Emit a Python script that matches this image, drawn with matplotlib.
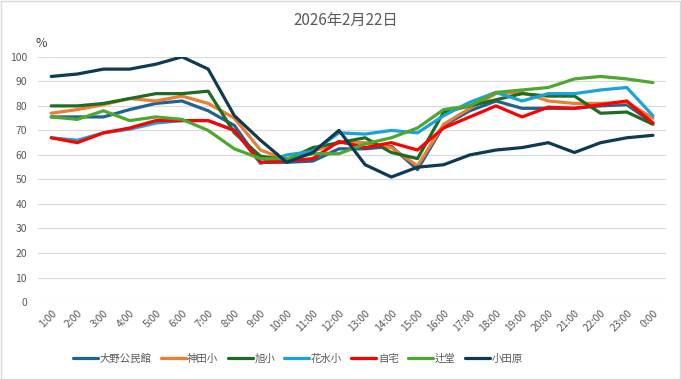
import matplotlib
matplotlib.use("Agg")
import matplotlib.pyplot as plt
from matplotlib.patches import Rectangle

plt.rcParams['font.family'] = ['Noto Sans CJK JP', 'DejaVu Sans']

hours = ["1:00", "2:00", "3:00", "4:00", "5:00", "6:00", "7:00", "8:00", "9:00", "10:00",
         "11:00", "12:00", "13:00", "14:00", "15:00", "16:00", "17:00", "18:00", "19:00",
         "20:00", "21:00", "22:00", "23:00", "0:00"]

ono = [75.5, 75.5, 75.5, 78.5, 81, 82, 78, 72, 57, 57, 57.5, 62.5, 62.5, 63.5, 54, 72, 78, 82, 79, 79, 79, 80, 80.5, 73]
kanda = [77, 78.5, 80.5, 83, 82, 84, 81, 75, 62, 58, 61.5, 65, 65, 63, 55.5, 72.5, 79, 85, 85.5, 82, 81, 81, 81.5, 75]
asahi = [80, 80, 81, 83, 85, 85, 86, 69, 59.5, 58, 63, 65, 67, 61, 58.5, 77.5, 80, 82.5, 85, 84, 84, 77, 77.5, 72.5]
hanamizu = [67, 66, 69, 70.5, 73, 74, 74, 70, 56.5, 60, 61.5, 69, 68.5, 70, 69, 76, 81.5, 85.5, 82, 85, 85, 86.5, 87.5, 76]
jitaku = [67, 65, 69, 71, 74, 74, 74, 70, 57, 57.5, 58.5, 65.5, 63, 65, 62, 71, 75.5, 80, 75.5, 79.5, 79, 80.5, 82, 73]
tsujido = [75.5, 74.5, 78, 74, 75.5, 74.5, 70, 62.5, 58.5, 58.5, 60.5, 60.5, 64.5, 67, 71, 78.5, 80, 85.5, 86.5, 87.5, 91, 92, 91, 89.5]
odawara = [92, 93, 95, 95, 97, 100, 95, 76, 66, 57, 61, 70, 56, 51, 55, 56, 60, 62, 63, 65, 61, 65, 67, 68]

series = [
    ("大野公民館", ono, "#1f6391"),
    ("神田小", kanda, "#ed7d31"),
    ("旭小", asahi, "#1e6b23"),
    ("花水小", hanamizu, "#1aa3db"),
    ("自宅", jitaku, "#ff0000"),
    ("辻堂", tsujido, "#4ea72e"),
    ("小田原", odawara, "#0e3a53"),
]

fig = plt.figure(figsize=(6.81, 3.79), dpi=100)
ax = fig.add_axes([0.056, 0.203, 0.922, 0.647])

x = list(range(len(hours)))
for name, vals, col in series:
    ax.plot(x, vals, color=col, lw=2.3, label=name, solid_capstyle='round', solid_joinstyle='round')

ax.set_xlim(-0.5, len(hours) - 0.5)
ax.set_ylim(0, 100)
ax.set_yticks(range(0, 101, 10))
ax.set_xticks(x)
ax.set_xticklabels(hours, rotation=45, ha='right', rotation_mode='anchor')
ax.grid(axis='y', color='#d9d9d9', lw=0.8)
ax.set_axisbelow(True)
for s in ax.spines.values():
    s.set_visible(False)
ax.tick_params(axis='both', length=0, labelsize=7.5, colors='#595959')
ax.tick_params(axis='y', pad=8)
ax.tick_params(axis='x', pad=4)

fig.text(0.508, 0.945, "2026年2月22日", ha='center', va='center', fontsize=11, color='#595959')
fig.text(0.052, 0.885, "%", ha='left', va='center', fontsize=9, color='#404040')

leg = fig.legend(loc='center left', bbox_to_anchor=(0.107, 0.053), ncol=7, frameon=False,
                 fontsize=7.5, handlelength=2.4, handletextpad=0.15, columnspacing=0.9,
                 borderpad=0, borderaxespad=0)
for t in leg.get_texts():
    t.set_color('#595959')

fig.patches.append(Rectangle((0.001, 0.001), 0.997, 0.997, transform=fig.transFigure,
                             fill=False, edgecolor='#d9d9d9', lw=1))

fig.savefig("out.png", dpi=100)
